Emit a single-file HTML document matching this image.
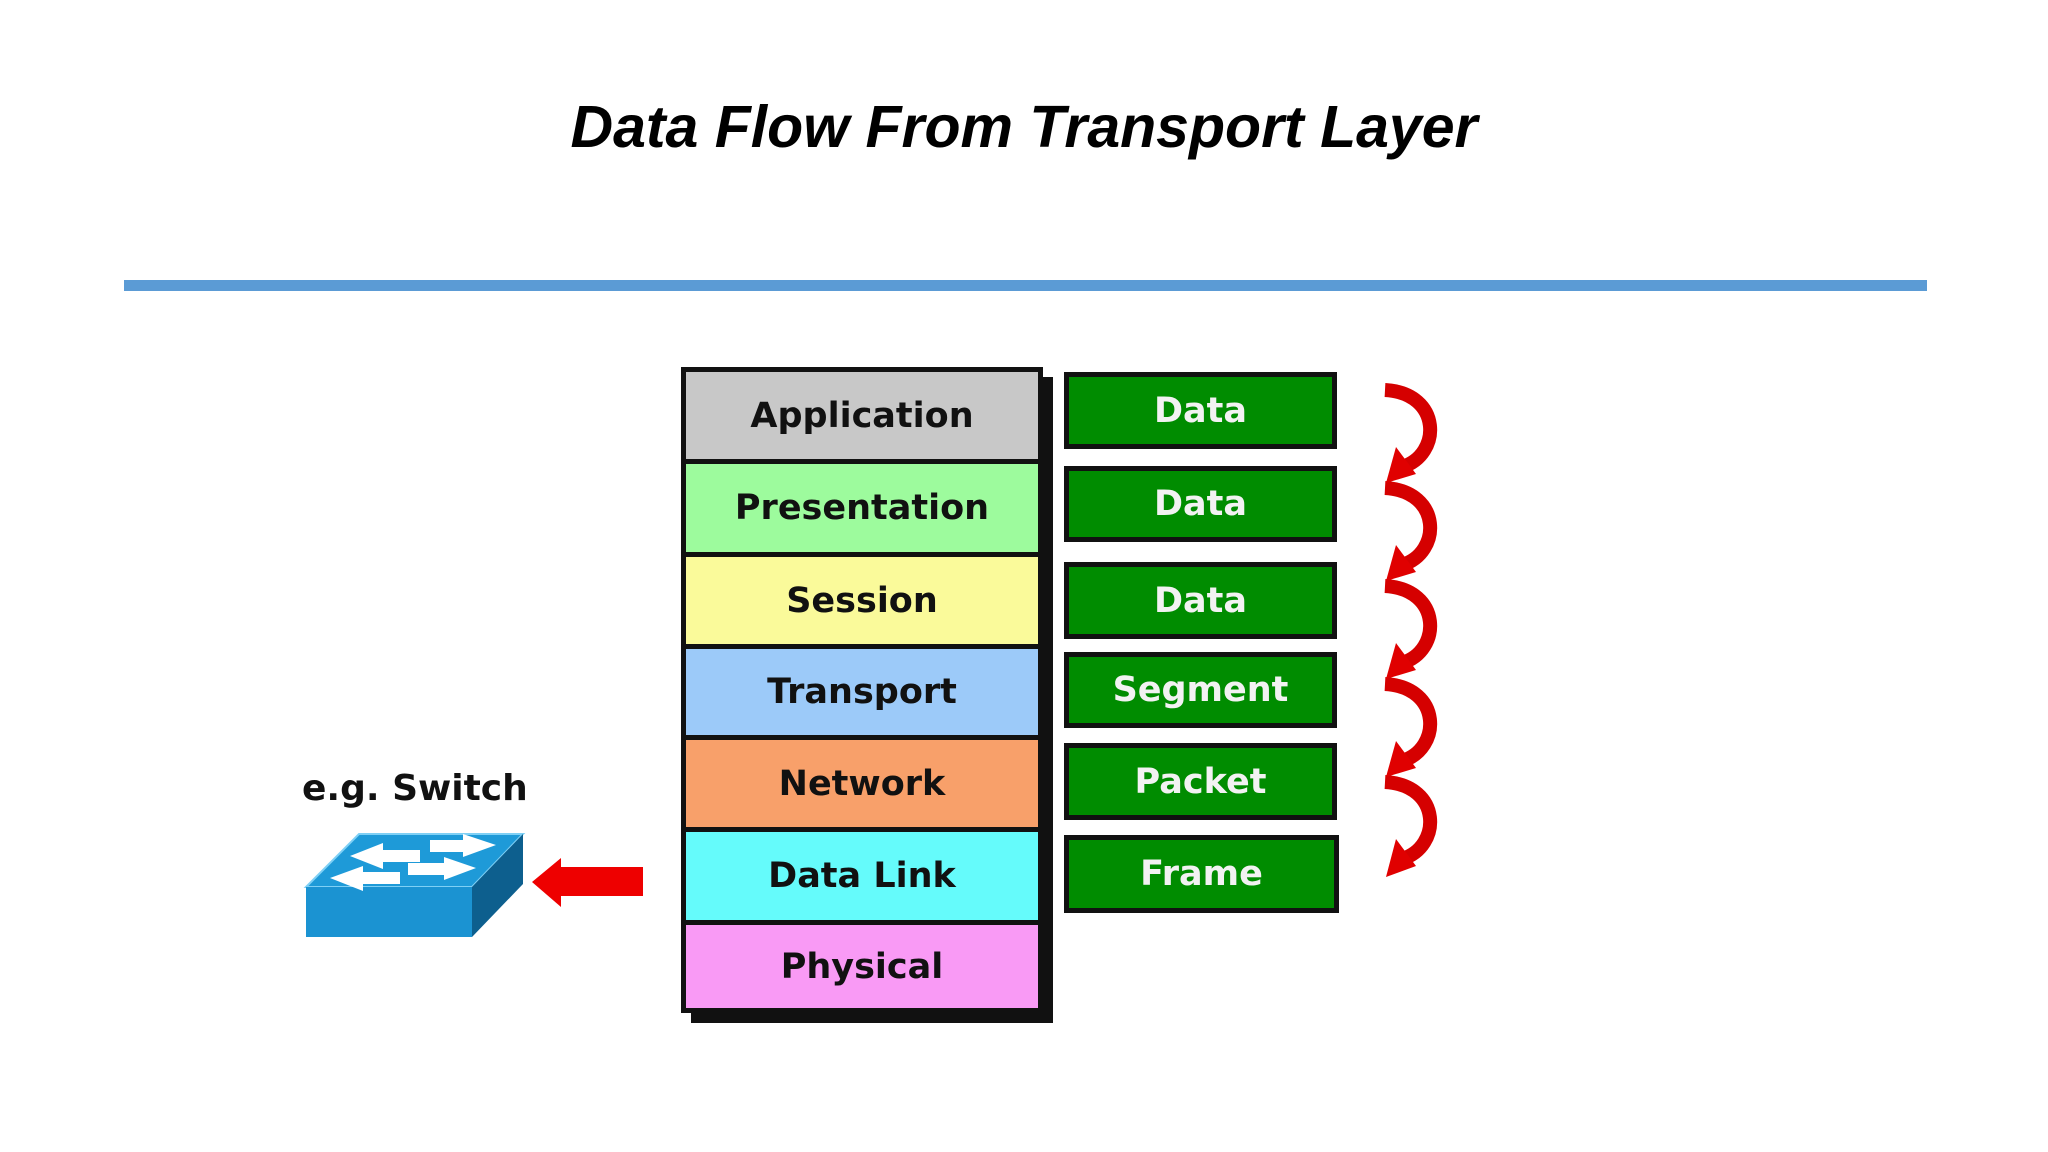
<!DOCTYPE html>
<html><head><meta charset="utf-8"><style>
html,body{margin:0;padding:0;background:#fff;}
body{width:2048px;height:1152px;position:relative;overflow:hidden;font-family:"DejaVu Sans",sans-serif;}
.t{position:absolute;left:0;width:2048px;top:93px;text-align:center;font:italic bold 59px "Liberation Sans",sans-serif;color:#000;}
.line{position:absolute;left:124px;top:280px;width:1803px;height:11px;background:#5b9bd5;}
.shadow{position:absolute;left:691px;top:377px;width:362px;height:646px;background:#111;}
.stack{position:absolute;left:681px;top:367px;width:362px;height:646px;background:#111;}
.cell{position:absolute;left:5px;width:352px;display:flex;align-items:center;justify-content:center;font-weight:bold;font-size:35px;color:#111;}
.g{position:absolute;left:1064px;width:273px;background:#008c00;border:5px solid #111;box-sizing:border-box;display:flex;align-items:center;justify-content:center;color:#f2f2f2;font-weight:bold;font-size:35px;}
.sw{position:absolute;left:302px;top:768px;font-weight:bold;font-size:36px;color:#111;}
</style></head><body>
<div class="t">Data Flow From Transport Layer</div>
<div class="line"></div>
<div class="shadow"></div>
<div class="stack">
<div class="cell" style="top:5px;height:87px;background:#c8c8c8">Application</div>
<div class="cell" style="top:97px;height:88px;background:#9dfb9d">Presentation</div>
<div class="cell" style="top:190px;height:87px;background:#fafa9a">Session</div>
<div class="cell" style="top:282px;height:86px;background:#9ccaf9">Transport</div>
<div class="cell" style="top:373px;height:87px;background:#f8a06a">Network</div>
<div class="cell" style="top:465px;height:88px;background:#65fbfb">Data Link</div>
<div class="cell" style="top:558px;height:83px;background:#f99af5">Physical</div>
</div>
<div class="g" style="top:372px;height:77px">Data</div>
<div class="g" style="top:466px;height:76px">Data</div>
<div class="g" style="top:562px;height:77px">Data</div>
<div class="g" style="top:652px;height:76px">Segment</div>
<div class="g" style="top:743px;height:77px">Packet</div>
<div class="g" style="top:835px;height:78px;width:275px">Frame</div>
<div class="sw">e.g. Switch</div>
<svg width="2048" height="1152" style="position:absolute;left:0;top:0">
<polygon points="306,887 359,834 523,834 472,887" fill="#1e9ad8" stroke="#7fd0f5" stroke-width="2"/>
<polygon points="306,887 472,887 472,937 306,937" fill="#1b93d2"/>
<polygon points="472,887 523,834 523,884 472,937" fill="#0d5f8e"/>
<g fill="#fff">
<polygon points="350,856 383,843 383,850 420,850 420,862 383,862 383,869"/>
<polygon points="496,845 463,834 463,840 430,840 430,852 463,852 463,857"/>
<polygon points="330,878 363,866 363,872 400,872 400,884 363,884 363,891"/>
<polygon points="476,868 444,857 444,863 408,863 408,875 444,875 444,880"/>
</g>
<polygon points="532,882 561,858 561,867 643,867 643,896 561,896 561,907" fill="#ee0000"/>
<g fill="none" stroke="#d50000" stroke-width="14">
<path d="M1385,390 C1442,393 1442,455 1402,467"/>
<path d="M1385,488 C1442,491 1442,553 1402,565"/>
<path d="M1385,586 C1442,589 1442,651 1402,663"/>
<path d="M1385,684 C1442,687 1442,749 1402,761"/>
<path d="M1385,782 C1442,785 1442,847 1402,859"/>
</g>
<g fill="#e00000">
<polygon points="1386,483 1396,447 1416,474"/>
<polygon points="1386,581 1396,545 1416,572"/>
<polygon points="1386,679 1396,643 1416,670"/>
<polygon points="1386,777 1396,741 1416,768"/>
<polygon points="1386,877 1396,839 1416,866"/>
</g>
</svg>
</body></html>
